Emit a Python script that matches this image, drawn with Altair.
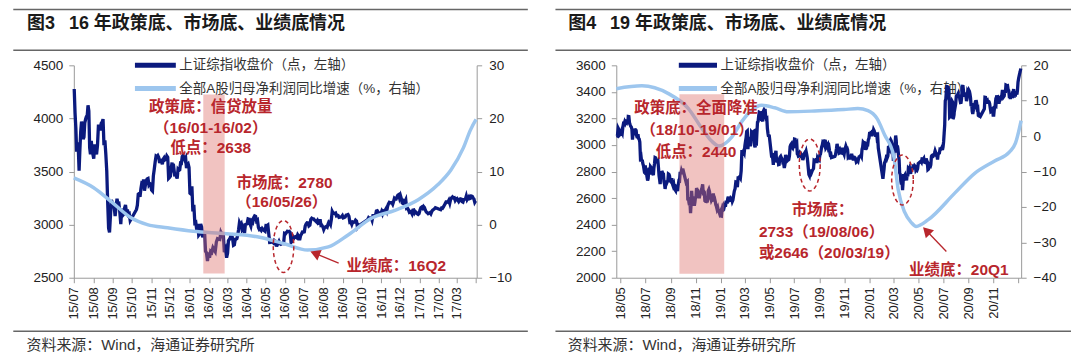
import math
import pandas as pd
import altair as alt

# ---------------- text ----------------
TITLE1 = "图3\u2002 16 年政策底、市场底、业绩底情况"
TITLE2 = "图4\u2002 19 年政策底、市场底、业绩底情况"
SOURCE = "资料来源：Wind，海通证券研究所"
S_INDEX = "上证综指收盘价（点，左轴）"
S_PROFIT = "全部A股归母净利润同比增速（%，右轴）"

# ---------------- panel 1: Shanghai Composite daily closes (2015/07 - 2017/03) ----------------
m1507 = [4277, 4053, 3912, 3687, 3775, 3727, 3507, 3709, 3877, 3970, 3924, 3805, 3823, 3957, 3992, 4017, 4026, 4124, 4070, 3725, 3663, 3789, 3705, 3664]
m1508 = [3622, 3756, 3694, 3661, 3744, 3928, 3928, 3887, 3954, 3965, 3993, 3748, 3794, 3664, 3507, 3210, 2965, 2927, 3084, 3232, 3206]
m1509 = [3166, 3160, 3080, 3170, 3243, 3197, 3200, 3114, 3005, 3152, 3086, 3097, 3156, 3186, 3115, 3142, 3092, 3100, 3038, 3053]
m1510 = [3143, 3183, 3287, 3293, 3262, 3338, 3391, 3386, 3425, 3320, 3368, 3412, 3430, 3434, 3375, 3387, 3382]
m1511 = [3325, 3316, 3459, 3522, 3590, 3646, 3640, 3650, 3632, 3580, 3607, 3604, 3568, 3617, 3630, 3610, 3616, 3647, 3635, 3436, 3445]
m1512 = [3456, 3536, 3584, 3524, 3536, 3470, 3472, 3455, 3434, 3520, 3510, 3516, 3580, 3578, 3642, 3651, 3636, 3612, 3627, 3533, 3563, 3572, 3539]
m1601 = [3296, 3288, 3361, 3125, 3186, 3016, 3022, 2949, 3007, 2901, 2913, 3007, 2976, 2880, 2916, 2938, 2750, 2735, 2656, 2738]
m1602 = [2689, 2749, 2739, 2782, 2763, 2746, 2836, 2867, 2862, 2860, 2927, 2903, 2928, 2741, 2767, 2688]
m1603 = [2733, 2849, 2859, 2874, 2897, 2901, 2863, 2805, 2810, 2863, 2864, 2870, 2904, 2955, 3018, 2999, 3010, 2960, 2979, 2957, 2920, 3000, 3004]
m1604 = [3009, 3053, 3050, 3008, 2985, 3034, 3023, 3066, 3082, 3078, 3034, 3042, 2973, 2953, 2959, 2946, 2964, 2953, 2945, 2938]
m1605 = [2992, 2991, 2997, 2913, 2832, 2833, 2837, 2835, 2827, 2850, 2843, 2807, 2806, 2825, 2843, 2821, 2815, 2822, 2822, 2822, 2917]
m1606 = [2913, 2925, 2938, 2934, 2936, 2927, 2833, 2842, 2887, 2872, 2885, 2888, 2878, 2905, 2892, 2854, 2895, 2912, 2931, 2930]
m1607 = [2932, 2988, 3006, 3017, 3016, 2988, 2995, 3049, 3060, 3054, 3054, 3043, 3036, 3027, 3039, 3012, 3015, 3050, 2992, 2994, 2979]
m1608 = [2953, 2971, 2978, 2982, 2976, 3004, 3025, 3018, 3002, 3050, 3125, 3110, 3109, 3104, 3108, 3084, 3089, 3086, 3068, 3070, 3071, 3075, 3085]
m1609 = [3064, 3067, 3072, 3090, 3092, 3095, 3078, 3021, 3023, 3002, 3026, 3023, 3025, 3042, 3033, 2980, 2998, 2988, 2999, 3005]
m1610 = [3048, 3065, 3058, 3061, 3063, 3041, 3084, 3084, 3085, 3090, 3128, 3131, 3117, 3112, 3104, 3100]
m1611 = [3122, 3102, 3129, 3125, 3133, 3147, 3128, 3171, 3196, 3210, 3206, 3205, 3208, 3192, 3218, 3248, 3241, 3241, 3261, 3277, 3282, 3250]
m1612 = [3273, 3244, 3204, 3199, 3222, 3215, 3233, 3152, 3155, 3140, 3117, 3123, 3118, 3102, 3137, 3139, 3110, 3122, 3114, 3102, 3096, 3104]
m1701 = [3135, 3158, 3165, 3154, 3171, 3161, 3136, 3119, 3112, 3103, 3108, 3113, 3101, 3123, 3136, 3143, 3149, 3159]
m1702 = [3140, 3156, 3153, 3167, 3183, 3197, 3216, 3217, 3212, 3229, 3202, 3240, 3253, 3261, 3251, 3253, 3228, 3242]
m1703 = [3246, 3231, 3218, 3233, 3242, 3240, 3216, 3212, 3237, 3239, 3241, 3269, 3237, 3250, 3262, 3245, 3248, 3269, 3266, 3252, 3241, 3210, 3223]

# (month, closes, first trading day, last trading day)
P1_MONTHS = [
    ("2015-07", m1507, 1, None), ("2015-08", m1508, 1, None), ("2015-09", m1509, 1, None),
    ("2015-10", m1510, 8, None), ("2015-11", m1511, 1, None), ("2015-12", m1512, 1, None),
    ("2016-01", m1601, 1, None), ("2016-02", m1602, 1, None), ("2016-03", m1603, 1, None),
    ("2016-04", m1604, 1, None), ("2016-05", m1605, 1, None), ("2016-06", m1606, 1, None),
    ("2016-07", m1607, 1, None), ("2016-08", m1608, 1, None), ("2016-09", m1609, 1, None),
    ("2016-10", m1610, 10, None), ("2016-11", m1611, 1, None), ("2016-12", m1612, 1, None),
    ("2017-01", m1701, 1, 26), ("2017-02", m1702, 3, None), ("2017-03", m1703, 1, None),
]

# all-A net profit growth YoY (%)
B1_DATES = ["2015-07-01", "2015-08-01", "2015-08-29", "2015-09-30", "2015-10-26", "2015-11-27",
            "2016-01-07", "2016-02-29", "2016-04-18", "2016-05-31", "2016-07-07", "2016-08-09",
            "2016-09-10", "2016-10-17", "2016-11-23", "2016-12-30", "2017-01-30", "2017-02-20",
            "2017-03-12", "2017-03-23", "2017-04-01"]
B1_VALUES = [8.8, 7.0, 4.4, 1.3, 0.0, -0.6, -1.25, -1.7, -2.3, -3.6, -4.8, -4.2,
             -1.9, 1.25, 2.7, 4.7, 7.5, 10.3, 14.5, 17.8, 19.8]

BAND1_X = ["2016-01-23", "2016-02-26"]
BAND1_Y = [-9.2, 24.5]   # right-axis units

# ---------------- panel 2: Shanghai Composite daily closes (2018/04 - 2021/01) ----------------
m1804 = [3071, 3068, 3128, 3117, 3076, 3082]
m1805 = [3081, 3101, 3091, 3136, 3161, 3159, 3174, 3163, 3174, 3169, 3193, 3155, 3214, 3213, 3168, 3154, 3141, 3135, 3120, 3041, 3095]
m1806 = [3075, 3091, 3114, 3115, 3109, 3067, 3052, 3080, 3049, 3044, 3022, 2908, 2915, 2875, 2889, 2859, 2844, 2813, 2786, 2847]
m1807 = [2775, 2786, 2759, 2733, 2747, 2815, 2827, 2777, 2837, 2831, 2814, 2798, 2787, 2772, 2829, 2859, 2905, 2903, 2882, 2873, 2869, 2876]
m1808 = [2825, 2768, 2740, 2705, 2779, 2744, 2794, 2795, 2785, 2781, 2723, 2705, 2669, 2698, 2733, 2714, 2724, 2730, 2781, 2778, 2769, 2737, 2725]
m1809 = [2720, 2750, 2705, 2691, 2703, 2669, 2664, 2656, 2686, 2682, 2652, 2699, 2730, 2729, 2797, 2781, 2806, 2792, 2821]
m1810 = [2716, 2721, 2725, 2583, 2606, 2568, 2546, 2561, 2486, 2550, 2655, 2594, 2604, 2603, 2598, 2542, 2568, 2603]
m1811 = [2606, 2676, 2665, 2659, 2641, 2635, 2599, 2630, 2655, 2632, 2668, 2679, 2703, 2646, 2651, 2645, 2580, 2575, 2574, 2602, 2567, 2588]
m1812 = [2655, 2666, 2649, 2605, 2606, 2584, 2594, 2602, 2634, 2593, 2597, 2576, 2550, 2536, 2516, 2527, 2504, 2498, 2483, 2494]
m1901 = [2465, 2464, 2515, 2533, 2526, 2544, 2535, 2554, 2535, 2570, 2570, 2559, 2596, 2610, 2579, 2581, 2591, 2601, 2596, 2594, 2575, 2585]
m1902 = [2618, 2653, 2671, 2721, 2719, 2682, 2754, 2755, 2761, 2751, 2804, 2961, 2941, 2954, 2941]
m1903 = [2994, 3027, 3054, 3102, 3106, 2969, 3026, 3060, 3026, 2990, 3022, 3096, 3090, 3091, 3101, 3104, 2997, 2982, 3022, 2995, 3091]
m1904 = [3171, 3176, 3216, 3247, 3245, 3239, 3241, 3190, 3189, 3178, 3253, 3263, 3251, 3271, 3215, 3198, 3201, 3124, 3086, 3063, 3078]
m1905 = [2906, 2926, 2894, 2850, 2939, 2903, 2883, 2939, 2955, 2882, 2870, 2905, 2891, 2852, 2853, 2892, 2910, 2915, 2905, 2899]
m1906 = [2890, 2862, 2861, 2827, 2852, 2925, 2909, 2910, 2882, 2887, 2890, 2918, 2988, 3001, 3008, 2982, 2976, 2996, 2979]
m1907 = [3044, 3043, 3015, 3005, 3012, 2933, 2928, 2915, 2917, 2930, 2942, 2937, 2931, 2902, 2924, 2886, 2899, 2923, 2937, 2944, 2941, 2953, 2932]
m1908 = [2908, 2868, 2821, 2777, 2768, 2795, 2774, 2815, 2797, 2808, 2815, 2823, 2883, 2880, 2880, 2883, 2898, 2864, 2902, 2894, 2890, 2886]
m1909 = [2924, 2931, 2957, 2985, 2999, 3024, 3021, 3008, 3031, 3030, 2978, 2985, 2999, 3006, 2977, 2985, 2955, 2929, 2932, 2905]
m1910 = [2914, 2924, 2947, 2973, 3008, 2991, 2978, 2977, 2938, 2940, 2954, 2941, 2940, 2954, 2980, 2955, 2939, 2929]
m1911 = [2958, 2975, 2991, 2978, 2978, 2964, 2909, 2914, 2905, 2909, 2891, 2909, 2933, 2911, 2903, 2885, 2906, 2907, 2903, 2889, 2871]
m1912 = [2875, 2884, 2878, 2899, 2912, 2914, 2917, 2924, 2915, 2968, 2984, 3022, 3017, 3017, 3004, 2963, 2982, 2981, 3007, 3005, 3040, 3050]
m2001 = [3085, 3084, 3083, 3104, 3066, 3095, 3092, 3115, 3106, 3090, 3074, 3075, 3095, 3052, 3060, 2977]
m2002 = [2746, 2783, 2818, 2867, 2876, 2890, 2901, 2927, 2906, 2917, 2983, 2984, 2975, 3030, 3039, 3031, 3013, 2988, 2991, 2880]
m2003 = [2970, 2992, 3011, 3071, 3034, 2943, 2996, 2968, 2923, 2887, 2789, 2779, 2728, 2702, 2745, 2660, 2722, 2781, 2764, 2772, 2747, 2750]
m2004 = [2734, 2780, 2764, 2821, 2815, 2826, 2796, 2783, 2827, 2811, 2819, 2838, 2852, 2827, 2843, 2838, 2809, 2815, 2810, 2822, 2860]
m2005 = [2878, 2871, 2895, 2894, 2891, 2898, 2870, 2868, 2875, 2898, 2883, 2867, 2814, 2818, 2846, 2837, 2836, 2852]
m2006 = [2915, 2921, 2923, 2919, 2930, 2938, 2956, 2943, 2921, 2920, 2890, 2931, 2935, 2939, 2967, 2965, 2970, 2980, 2962, 2985]
m2007 = [3025, 3090, 3152, 3333, 3345, 3403, 3451, 3384, 3443, 3415, 3361, 3210, 3214, 3314, 3320, 3333, 3325, 3196, 3205, 3228, 3294, 3286, 3310]
m2008 = [3367, 3371, 3377, 3386, 3354, 3379, 3340, 3319, 3320, 3360, 3438, 3451, 3408, 3364, 3386, 3385, 3373, 3330, 3350, 3404, 3396]
m2009 = [3412, 3404, 3384, 3355, 3292, 3316, 3254, 3234, 3260, 3278, 3295, 3283, 3270, 3338, 3316, 3275, 3279, 3223, 3219, 3217, 3224, 3218]
m2010 = [3272, 3359, 3358, 3340, 3332, 3336, 3313, 3328, 3325, 3312, 3278, 3251, 3254, 3269, 3273, 3225]
m2011 = [3225, 3271, 3277, 3320, 3312, 3373, 3360, 3342, 3338, 3310, 3346, 3339, 3347, 3364, 3377, 3414, 3402, 3363, 3369, 3408, 3392]
m2012 = [3451, 3449, 3443, 3445, 3416, 3411, 3371, 3373, 3347, 3369, 3367, 3366, 3404, 3394, 3421, 3357, 3383, 3364, 3397, 3397, 3379, 3414, 3473]
m2101 = [3502, 3528, 3550, 3576]

P2_MONTHS = [
    ("2018-04", m1804, 20, 30), ("2018-05", m1805, 1, None), ("2018-06", m1806, 1, None),
    ("2018-07", m1807, 1, None), ("2018-08", m1808, 1, None), ("2018-09", m1809, 1, None),
    ("2018-10", m1810, 8, None), ("2018-11", m1811, 1, None), ("2018-12", m1812, 1, None),
    ("2019-01", m1901, 1, None), ("2019-02", m1902, 1, None), ("2019-03", m1903, 1, None),
    ("2019-04", m1904, 1, None), ("2019-05", m1905, 6, None), ("2019-06", m1906, 1, None),
    ("2019-07", m1907, 1, None), ("2019-08", m1908, 1, None), ("2019-09", m1909, 1, None),
    ("2019-10", m1910, 8, None), ("2019-11", m1911, 1, None), ("2019-12", m1912, 1, None),
    ("2020-01", m2001, 1, 23), ("2020-02", m2002, 3, None), ("2020-03", m2003, 1, None),
    ("2020-04", m2004, 1, None), ("2020-05", m2005, 6, None), ("2020-06", m2006, 1, None),
    ("2020-07", m2007, 1, None), ("2020-08", m2008, 1, None), ("2020-09", m2009, 1, None),
    ("2020-10", m2010, 9, None), ("2020-11", m2011, 1, None), ("2020-12", m2012, 1, None),
    ("2021-01", m2101, 1, 7),
]

B2_DATES = ["2018-04-20", "2018-06-22", "2018-08-26", "2018-10-14", "2018-11-16", "2018-12-10",
            "2018-12-28", "2019-01-29", "2019-02-22", "2019-03-18", "2019-04-12", "2019-05-14",
            "2019-06-16", "2019-08-20", "2019-10-31", "2019-12-04", "2019-12-29", "2020-01-20",
            "2020-02-08", "2020-03-01", "2020-03-12", "2020-03-28", "2020-04-14", "2020-04-25",
            "2020-05-25", "2020-07-29", "2020-09-16", "2020-11-04", "2020-12-10", "2020-12-25",
            "2021-01-08"]
B2_VALUES = [13.4, 14.2, 12.0, 7.8, 2.2, -1.4, -2.8, -0.2, 4.1, 7.3, 8.7, 8.0,
             6.9, 7.1, 7.5, 7.8, 7.2, 5.0,
             0.3, -5.5, -15.0, -21.5, -24.5, -25.5,
             -23.6, -16.1, -10.5, -7.0, -4.5, -2.0,
             4.4]

BAND2_X = ["2018-09-22", "2019-01-10"]
BAND2_Y = [-38.9, 11.8]

# ---------------- styles ----------------
NAVY = "#0B1A7E"
LIGHT = "#9DC6EE"
RED = "#B8262C"
GRAYLINE = "#666666"
FONT = "Liberation Sans, Noto Sans CJK SC"
W1, W2, H = 404, 406, 213
ONE = pd.DataFrame({"k": [0]})


def spread(ym, vals, d0, d1):
    y, m = map(int, ym.split("-"))
    start = pd.Timestamp(year=y, month=m, day=d0)
    if d1 is None:
        end = pd.Timestamp(year=y, month=m, day=1) + pd.offsets.MonthBegin(1)
    else:
        end = pd.Timestamp(year=y, month=m, day=d1) + pd.Timedelta(days=1)
    n = len(vals)
    return [(start + (end - start) * ((i + 0.5) / n)).strftime("%Y-%m-%dT%H:%M:%SZ") for i in range(n)]


def index_frame(months):
    dates, values = [], []
    for ym, vals, d0, d1 in months:
        dates += spread(ym, vals, d0, d1)
        values += vals
    return pd.DataFrame({"date": dates, "value": values, "series": S_INDEX})


def dt(s):
    y, m, d = map(int, s.split("-"))
    return alt.DateTime(year=y, month=m, date=d, utc=True)


AX = dict(domainColor="#9a9a9a", tickColor="#9a9a9a", tickSize=5, labelFont="Liberation Sans",
          labelColor="#222222", grid=False, title=None)

COLOR = alt.Color("series:N", scale=alt.Scale(domain=[S_INDEX, S_PROFIT], range=[NAVY, LIGHT]),
                  legend=None)


def text(s, x, y, size=15.5, color=RED, weight="bold", align="center"):
    return alt.Chart(ONE).mark_text(text=s, fontSize=size, fontWeight=weight, color=color,
                                    align=align, baseline="middle", font=FONT).encode(
        x=alt.value(x), y=alt.value(y))


def hline(x1, x2, y, color=GRAYLINE, width=1.5):
    return alt.Chart(ONE).mark_rule(color=color, strokeWidth=width).encode(
        x=alt.value(x1), x2=alt.value(x2), y=alt.value(y))


def legend(lx, lx2):
    out = []
    for i, (name, col) in enumerate([(S_INDEX, NAVY), (S_PROFIT, LIGHT)]):
        yy = 23.3 * i
        out.append(hline(lx, lx2, yy, color=col, width=5))
        out.append(text(name, lx2 + 3.5, yy, size=13.5, color="#333333", weight="normal", align="left"))
    return out


def ellipse(cx, cy, w, h):
    a = w / h
    pts = []
    for k in range(48):
        t = 2 * math.pi * k / 48
        pts.append(f"{a * math.cos(t):.4f},{math.sin(t):.4f}")
    path = "M" + "L".join(pts) + "Z"
    return alt.Chart(ONE).mark_point(shape=path, filled=False, color=RED, strokeWidth=1.5,
                                     strokeDash=[4, 3], size=h * h, opacity=1).encode(
        x=alt.value(cx), y=alt.value(cy))


def arrow(tail, tip):
    dx, dy = tip[0] - tail[0], tip[1] - tail[1]
    ln = math.hypot(dx, dy)
    ux, uy = dx / ln, dy / ln
    hx, hy = tip[0] - 4.9 * ux, tip[1] - 4.9 * uy
    ang = math.degrees(math.atan2(ux, -uy)) % 360
    shaft = alt.Chart(ONE).mark_rule(color=RED, strokeWidth=1.3).encode(
        x=alt.value(tail[0]), y=alt.value(tail[1]), x2=alt.value(hx), y2=alt.value(hy))
    head = alt.Chart(ONE).mark_point(shape="triangle-up", filled=True, color=RED, size=130,
                                     angle=ang, opacity=1).encode(x=alt.value(hx), y=alt.value(hy))
    return [shaft, head]


def panel(months, bdates, bvals, band_x, band_y, xdom, xticks, lastlab, ldom, lticks, rdom, rticks,
          width, title, ann):
    dark = index_frame(months)
    blue = pd.DataFrame({"date": bdates, "value": bvals, "series": S_PROFIT})
    band = pd.DataFrame({"b0": [band_x[0]], "b1": [band_x[1]], "lo": [band_y[0]], "hi": [band_y[1]]})

    xaxis = alt.Axis(values=[dt(t) for t in xticks], labelAngle=270, labelFontSize=13, labelPadding=4,
                     labelOverlap=False, labelFlush=False,
                     labelExpr=f"utcFormat(datum.value, '%y/%m') == '{lastlab}' ? '' : utcFormat(datum.value, '%y/%m')",
                     **AX)
    xscale = alt.Scale(type="utc", domain=[dt(xdom[0]), dt(xdom[1])])
    raxis = alt.Axis(orient="right", values=rticks, format="d", labelFontSize=13.5, labelPadding=7, **AX)
    rscale = alt.Scale(domain=rdom, nice=False, zero=False)

    dark_line = alt.Chart(dark).mark_line(strokeWidth=3.3, interpolate="linear").encode(
        x=alt.X("date:T", scale=xscale, axis=xaxis),
        y=alt.Y("value:Q", scale=alt.Scale(domain=ldom, nice=False, zero=False),
                axis=alt.Axis(orient="left", values=lticks, format="d", labelFontSize=13.5,
                              labelPadding=6, **AX)),
        color=COLOR)

    blue_line = alt.Chart(blue).mark_line(strokeWidth=3.5, interpolate="monotone").encode(
        x=alt.X("date:T", scale=xscale, axis=xaxis),
        y=alt.Y("value:Q", scale=rscale, axis=raxis),
        color=COLOR)

    band_rect = alt.Chart(band).mark_rect(color="#DE6F6B", opacity=0.42).encode(
        x=alt.X("b0:T", scale=xscale, axis=xaxis), x2="b1:T",
        y=alt.Y("lo:Q", scale=rscale, axis=raxis), y2="hi:Q")

    deco = [
        hline(ann["rule_x"][0], ann["rule_x"][1], -56),
        text(title, ann["title_x"], -41, size=18, color="#1a1a1a", align="left"),
        hline(ann["rule_x"][0], ann["rule_x"][1], -15),
        hline(ann["rule_x"][0], ann["rule_x"][1], 266.7),
        text(SOURCE, ann["title_x"] - 0.5, 280.4, size=15, color="#333333", weight="normal", align="left"),
    ]
    notes = [text(s, x, y, align=al) for (s, x, y, al) in ann["texts"]]
    notes += [ellipse(*e) for e in ann["ellipses"]]
    notes += arrow(ann["arrow"][0], ann["arrow"][1])

    left_group = alt.layer(*legend(*ann["legend_x"]), dark_line)
    right_group = alt.layer(blue_line, band_rect, *deco, *notes)
    return alt.layer(left_group, right_group).resolve_scale(y="independent").properties(
        width=width, height=H)


ANN1 = {
    "legend_x": (61.3, 102.3),
    "rule_x": (-60.7, 455.3),
    "title_x": -46.9,
    "texts": [
        ("政策底：信贷放量", 137.3, 41.7, "center"),
        ("（16/01-16/02）", 137.3, 62.7, "center"),
        ("低点：2638", 137.3, 82.7, "center"),
        ("市场底：2780", 211.3, 118, "center"),
        ("（16/05/26）", 208.6, 136.7, "center"),
        ("业绩底：16Q2", 323.3, 201.7, "center"),
    ],
    "ellipses": [(210.3, 181.7, 20.6, 52)],
    "arrow": ((265.6, 198.3), (237.3, 186.7)),
}

ANN2 = {
    "legend_x": (62.7, 101.0),
    "rule_x": (-61, 456),
    "title_x": -48.2,
    "texts": [
        ("政策底：全面降准", 80, 43.3, "center"),
        ("（18/10-19/01）", 81, 65, "center"),
        ("低点：2440", 80, 86.7, "center"),
        ("市场底：", 206.8, 145, "center"),
        ("2733（19/08/06）", 143, 166.7, "left"),
        ("或2646（20/03/19）", 143, 188.3, "left"),
        ("业绩底：20Q1", 343.5, 205, "center"),
    ],
    "ellipses": [(194, 100, 21, 52), (287, 115, 21.7, 50)],
    "arrow": ((331, 186.7), (307.7, 162.3)),
}

X1_TICKS = ["2015-07-01", "2015-08-01", "2015-09-01", "2015-10-01", "2015-11-01", "2015-12-01",
            "2016-01-01", "2016-02-01", "2016-03-01", "2016-04-01", "2016-05-01", "2016-06-01",
            "2016-07-01", "2016-08-01", "2016-09-01", "2016-10-01", "2016-11-01", "2016-12-01",
            "2017-01-01", "2017-02-01", "2017-03-01", "2017-04-01"]
X2_TICKS = ["2018-05-01", "2018-07-01", "2018-09-01", "2018-11-01", "2019-01-01", "2019-03-01",
            "2019-05-01", "2019-07-01", "2019-09-01", "2019-11-01", "2020-01-01", "2020-03-01",
            "2020-05-01", "2020-07-01", "2020-09-01", "2020-11-01", "2021-01-01"]

left = panel(P1_MONTHS, B1_DATES, B1_VALUES, BAND1_X, BAND1_Y,
             ("2015-07-01", "2017-04-02"), X1_TICKS, "17/04",
             [2500, 4500], [2500, 3000, 3500, 4000, 4500], [-10, 30], [-10, 0, 10, 20, 30],
             W1, TITLE1, ANN1)
right = panel(P2_MONTHS, B2_DATES, B2_VALUES, BAND2_X, BAND2_Y,
              ("2018-04-20", "2021-01-08"), X2_TICKS, "21/01",
              [2000, 3600], [2000, 2200, 2400, 2600, 2800, 3000, 3200, 3400, 3600],
              [-40, 20], [-40, -30, -20, -10, 0, 10, 20],
              W2, TITLE2, ANN2)

chart = alt.hconcat(left, right, spacing=25).resolve_scale(
    color="independent", x="independent", y="independent").properties(
    padding={"left": 4, "top": 0, "right": 0, "bottom": 0}).configure_view(stroke=None)

chart.save("out.html", embed_options={"renderer": "svg", "actions": False})
